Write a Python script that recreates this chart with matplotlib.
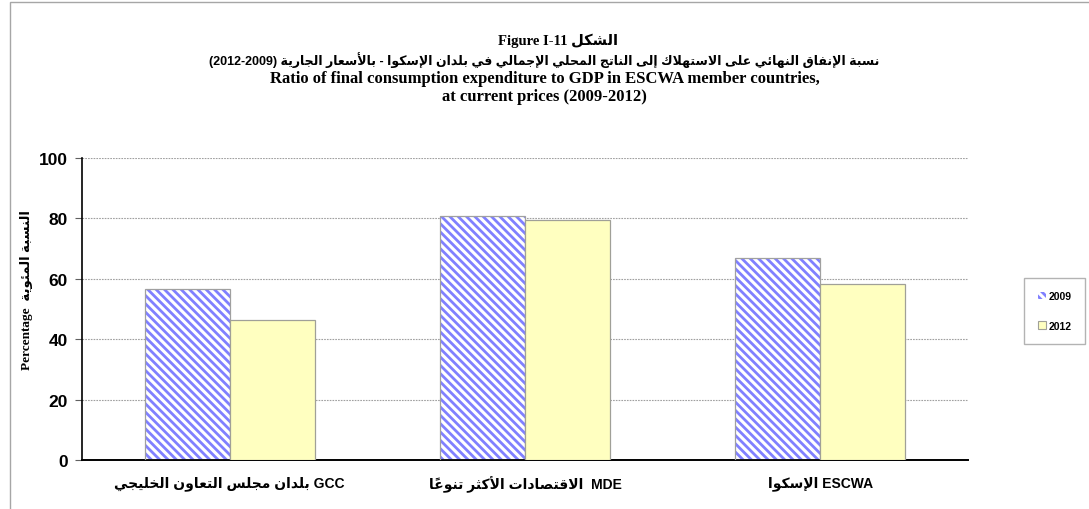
import matplotlib
matplotlib.use('Agg')
import matplotlib.pyplot as plt
from matplotlib.patches import Patch, Rectangle
import numpy as np

# ---- minimal arabic shaping (matplotlib has no shaping / bidi) ----
FORMS = {
    'ء': (0xFE80, 1), 'آ': (0xFE81, 2), 'أ': (0xFE83, 2), 'ؤ': (0xFE85, 2),
    'إ': (0xFE87, 2), 'ئ': (0xFE89, 4), 'ا': (0xFE8D, 2), 'ب': (0xFE8F, 4),
    'ة': (0xFE93, 2), 'ت': (0xFE95, 4), 'ث': (0xFE99, 4), 'ج': (0xFE9D, 4),
    'ح': (0xFEA1, 4), 'خ': (0xFEA5, 4), 'د': (0xFEA9, 2), 'ذ': (0xFEAB, 2),
    'ر': (0xFEAD, 2), 'ز': (0xFEAF, 2), 'س': (0xFEB1, 4), 'ش': (0xFEB5, 4),
    'ص': (0xFEB9, 4), 'ض': (0xFEBD, 4), 'ط': (0xFEC1, 4), 'ظ': (0xFEC5, 4),
    'ع': (0xFEC9, 4), 'غ': (0xFECD, 4), 'ف': (0xFED1, 4), 'ق': (0xFED5, 4),
    'ك': (0xFED9, 4), 'ل': (0xFEDD, 4), 'م': (0xFEE1, 4), 'ن': (0xFEE5, 4),
    'ه': (0xFEE9, 4), 'و': (0xFEED, 2), 'ى': (0xFEEF, 2), 'ي': (0xFEF1, 4),
}
LAMALEF = {'آ': 0xFEF5, 'أ': 0xFEF7, 'إ': 0xFEF9, 'ا': 0xFEFB}
MARKS = '\u064b\u064c\u064d\u064e\u064f\u0650\u0651\u0652'


def nb(s, i, step):
    j = i + step
    while 0 <= j < len(s) and s[j] in MARKS:
        j += step
    return s[j] if 0 <= j < len(s) else ''


def ar(s):
    out = []
    i = 0
    while i < len(s):
        c = s[i]
        if c not in FORMS:
            out.append(c)
            i += 1
            continue
        p = nb(s, i, -1)
        jp = p in FORMS and FORMS[p][1] == 4
        if c == 'ل' and i + 1 < len(s) and s[i + 1] in LAMALEF:
            out.append(chr(LAMALEF[s[i + 1]] + int(jp)))
            i += 2
            continue
        base, n = FORMS[c]
        jn = n == 4 and nb(s, i, 1) in FORMS
        if n == 1:
            f = 0
        elif jp and jn:
            f = 3
        elif jp:
            f = 1
        elif jn:
            f = 2
        else:
            f = 0
        out.append(chr(base + f))
        i += 1
    clusters = []
    for ch in out:
        if ch in MARKS and clusters:
            clusters[-1] += ch
        else:
            clusters.append(ch)
    return ''.join(reversed(clusters))


# ---- data ----
categories = [ar('بلدان مجلس التعاون الخليجي') + ' GCC',
              ar('الاقتصادات الأكثر تنوعاً') + '  MDE',
              ar('الإسكوا') + ' ESCWA']
vals_2009 = [56.6, 80.8, 66.9]
vals_2012 = [46.4, 79.5, 58.3]
series = ['2009', '2012']

title1 = 'Figure I-11 ' + ar('الشكل')
title2 = '(2012-2009) ' + ar('نسبة الإنفاق النهائي على الاستهلاك إلى الناتج المحلي الإجمالي في بلدان الإسكوا - بالأسعار الجارية')
title3 = 'Ratio of final consumption expenditure to GDP in ESCWA member countries,'
title4 = 'at current prices (2009-2012)'
ylab = 'Percentage  ' + ar('النسبة المئوية')

SANS = ['Liberation Sans', 'DejaVu Sans']
SERIF = ['Liberation Serif', 'DejaVu Sans']
HATCH = '\\\\\\\\'

W, H = 1089, 510
fig = plt.figure(figsize=(W / 100, H / 100), dpi=100)
ax = fig.add_axes([82 / W, 1 - 461 / H, (968 - 82) / W, (461 - 159) / H])

# outer chart border
fig.add_artist(Rectangle((10 / W, -0.1), 1.2, 1 - 3 / H + 0.1, transform=fig.transFigure,
                         fill=False, edgecolor='#a6a6a6', lw=1.0))

x = np.arange(len(categories))
bw = 0.288
plt.rcParams['hatch.linewidth'] = 2.0
ax.bar(x - bw / 2, vals_2009, bw, facecolor='white', edgecolor='#8080ff', hatch=HATCH, lw=0, zorder=2)
ax.bar(x - bw / 2, vals_2009, bw, fill=False, edgecolor='#a0a0a0', lw=0.9, zorder=3)
ax.bar(x + bw / 2, vals_2012, bw, facecolor='#ffffc0', edgecolor='#a0a098', lw=0.9, zorder=3)

ax.set_xlim(-0.5, 2.5)
ax.set_ylim(0, 100)
ax.set_yticks([0, 20, 40, 60, 80, 100])
ax.yaxis.grid(True, color='#a0a0a0', lw=0.8, ls=(0, (1.5, 1)))
ax.set_axisbelow(True)
for s in ['top', 'right']:
    ax.spines[s].set_visible(False)
ax.spines['left'].set_linewidth(1.2)
ax.spines['bottom'].set_linewidth(1.4)
ax.tick_params(axis='y', length=5, width=0.8, color='#606060', pad=5)
ax.tick_params(axis='x', length=0, pad=11)
ax.set_xticks(x)
ax.set_xticklabels(categories, fontsize=10, fontweight='bold', family=SANS)
for t in ax.get_yticklabels():
    t.set_fontsize(12.5)
    t.set_fontweight('bold')
    t.set_family(SANS)

# titles
fig.text(558 / W, 1 - 41 / H, title1, ha='center', va='center', fontsize=10.5, fontweight='bold', family=SERIF)
fig.text(0.5, 1 - 60 / H, title2, ha='center', va='center', fontsize=9, fontweight='bold', family=SANS)
fig.text(0.5, 1 - 79 / H, title3, ha='center', va='center', fontsize=12, fontweight='bold', family=SERIF)
fig.text(0.5, 1 - 97 / H, title4, ha='center', va='center', fontsize=12, fontweight='bold', family=SERIF)

fig.text(27 / W, 1 - 290 / H, ylab, rotation=90, ha='center', va='center',
         fontsize=9.5, fontweight='bold', family=SERIF)

handles = [Patch(facecolor='white', edgecolor='#8080ff', hatch=HATCH, lw=0),
           Patch(facecolor='#ffffc0', edgecolor='#a0a098', lw=0.8)]
leg = fig.legend(handles, series, loc='center',
                 bbox_to_anchor=((1021 + 1088) / 2 / W, 1 - 312 / H),
                 frameon=True, fancybox=False, edgecolor='#a0a0a0',
                 prop={'family': SANS, 'weight': 'bold', 'size': 7.5},
                 handlelength=0.8, handleheight=0.8, handletextpad=0.2,
                 labelspacing=1.9, borderpad=1.3, borderaxespad=0)
leg.get_frame().set_linewidth(1.0)

fig.savefig('out.png', dpi=100)
